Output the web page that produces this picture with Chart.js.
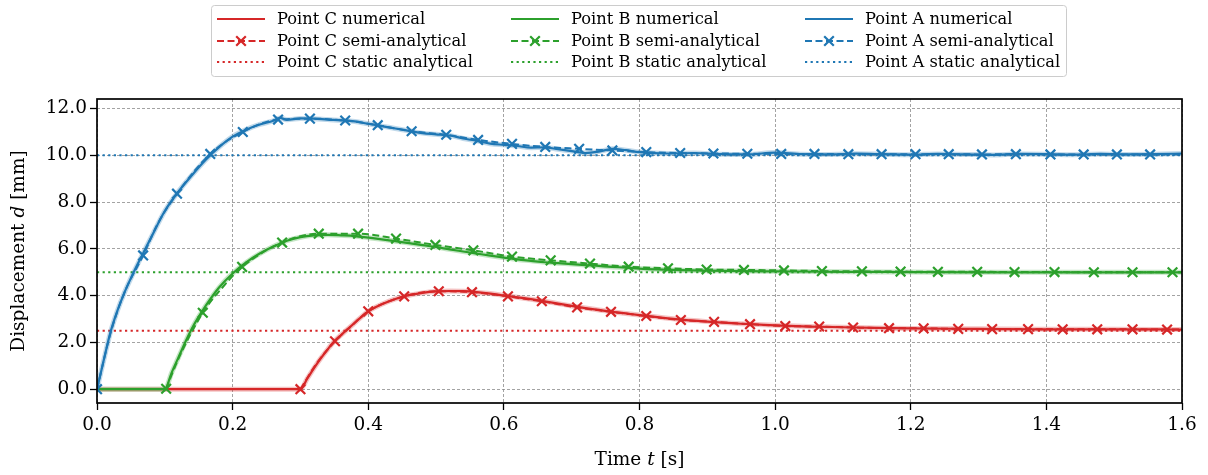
<!DOCTYPE html>
<html>
<head>
<meta charset="utf-8">
<script src="https://cdn.jsdelivr.net/npm/chart.js@4/dist/chart.umd.min.js"></script>
<style>
html,body{margin:0;padding:0;background:#ffffff;}
#wrap{width:1208px;height:475px;position:relative;}
</style>
</head>
<body>
<div id="wrap"><canvas id="c" width="1208" height="475"></canvas></div>
<script>
// ---------------- DATA ----------------
const xTicks = [0.0, 0.2, 0.4, 0.6, 0.8, 1.0, 1.2, 1.4, 1.6];
const yTicks = [0, 2, 4, 6, 8, 10, 12];

// static analytical displacement [mm]
const staticC = 2.5;
const staticB = 5.0;
const staticA = 10.0;

// numerical results
const numATime = [0, 0.01, 0.02, 0.03, 0.04, 0.05, 0.06, 0.08, 0.10, 0.12, 0.14, 0.16, 0.18, 0.20, 0.22, 0.24, 0.26, 0.27, 0.28, 0.30, 0.32, 0.34, 0.36, 0.38, 0.40, 0.42, 0.44, 0.46, 0.48, 0.50, 0.52, 0.54, 0.56, 0.58, 0.60, 0.62, 0.64, 0.66, 0.68, 0.70, 0.72, 0.74, 0.76, 0.78, 0.80, 0.84, 0.88, 0.92, 0.96, 1.00, 1.04, 1.08, 1.12, 1.16, 1.20, 1.24, 1.28, 1.32, 1.36, 1.40, 1.44, 1.48, 1.52, 1.56, 1.60];
const numADisp = [0, 1.25, 2.45, 3.35, 4.10, 4.75, 5.35, 6.50, 7.62, 8.45, 9.15, 9.80, 10.35, 10.80, 11.10, 11.32, 11.48, 11.60, 11.52, 11.58, 11.57, 11.53, 11.50, 11.45, 11.35, 11.25, 11.15, 11.05, 10.95, 10.90, 10.85, 10.72, 10.62, 10.50, 10.45, 10.40, 10.33, 10.34, 10.26, 10.18, 10.10, 10.16, 10.28, 10.22, 10.14, 10.08, 10.10, 10.05, 10.04, 10.12, 10.05, 10.04, 10.07, 10.05, 10.03, 10.06, 10.04, 10.02, 10.06, 10.05, 10.03, 10.06, 10.04, 10.05, 10.08];

const numBTime = [0, 0.10, 0.11, 0.12, 0.13, 0.14, 0.16, 0.18, 0.20, 0.22, 0.24, 0.26, 0.28, 0.30, 0.32, 0.34, 0.36, 0.38, 0.40, 0.42, 0.44, 0.46, 0.48, 0.50, 0.52, 0.54, 0.56, 0.58, 0.60, 0.62, 0.64, 0.66, 0.68, 0.70, 0.72, 0.74, 0.76, 0.78, 0.80, 0.85, 0.90, 0.95, 1.00, 1.10, 1.20, 1.30, 1.40, 1.50, 1.60];
const numBDisp = [0, 0, 0.70, 1.35, 2.00, 2.60, 3.55, 4.35, 4.95, 5.42, 5.80, 6.10, 6.35, 6.50, 6.58, 6.60, 6.58, 6.55, 6.48, 6.41, 6.33, 6.25, 6.16, 6.08, 5.98, 5.89, 5.80, 5.71, 5.63, 5.55, 5.49, 5.43, 5.39, 5.35, 5.31, 5.27, 5.23, 5.20, 5.16, 5.10, 5.07, 5.05, 5.04, 5.02, 5.01, 5.00, 5.00, 5.00, 5.00];

const numCTime = [0, 0.30, 0.31, 0.32, 0.33, 0.34, 0.35, 0.36, 0.37, 0.38, 0.39, 0.40, 0.42, 0.44, 0.46, 0.48, 0.50, 0.52, 0.54, 0.56, 0.58, 0.60, 0.62, 0.64, 0.66, 0.68, 0.70, 0.72, 0.74, 0.76, 0.78, 0.80, 0.85, 0.90, 0.95, 1.00, 1.05, 1.10, 1.15, 1.20, 1.30, 1.40, 1.50, 1.60];
const numCDisp = [0, 0, 0.45, 0.90, 1.32, 1.70, 2.05, 2.32, 2.58, 2.84, 3.09, 3.33, 3.63, 3.86, 4.02, 4.12, 4.18, 4.20, 4.19, 4.15, 4.09, 4.01, 3.93, 3.85, 3.76, 3.66, 3.56, 3.47, 3.39, 3.31, 3.24, 3.17, 3.01, 2.89, 2.80, 2.73, 2.68, 2.65, 2.62, 2.60, 2.58, 2.56, 2.56, 2.55];

// semi-analytical results; semiXMark = 1 where a marker is drawn
const semiATime = [0, 0.02, 0.04, 0.068, 0.09, 0.118, 0.167, 0.215, 0.267, 0.314, 0.366, 0.414, 0.464, 0.515, 0.562, 0.612, 0.661, 0.711, 0.760, 0.810, 0.860, 0.909, 0.959, 1.009, 1.058, 1.108, 1.157, 1.207, 1.256, 1.305, 1.355, 1.406, 1.455, 1.504, 1.553, 1.600];
const semiADisp = [0, 2.40, 4.10, 5.72, 7.10, 8.36, 10.06, 11.00, 11.53, 11.57, 11.49, 11.29, 11.03, 10.88, 10.66, 10.49, 10.36, 10.28, 10.21, 10.14, 10.10, 10.08, 10.07, 10.06, 10.06, 10.05, 10.05, 10.05, 10.05, 10.04, 10.05, 10.04, 10.04, 10.04, 10.04, 10.04];
const semiAMark = [1, 0, 0, 1, 0, 1, 1, 1, 1, 1, 1, 1, 1, 1, 1, 1, 1, 1, 1, 1, 1, 1, 1, 1, 1, 1, 1, 1, 1, 1, 1, 1, 1, 1, 1, 0];

const semiBTime = [0.102, 0.12, 0.156, 0.185, 0.214, 0.273, 0.327, 0.385, 0.441, 0.499, 0.555, 0.612, 0.669, 0.727, 0.784, 0.842, 0.899, 0.954, 1.013, 1.069, 1.128, 1.185, 1.240, 1.298, 1.353, 1.412, 1.470, 1.527, 1.586, 1.600];
const semiBDisp = [0.02, 1.30, 3.27, 4.35, 5.23, 6.27, 6.65, 6.65, 6.44, 6.17, 5.94, 5.67, 5.51, 5.37, 5.24, 5.17, 5.12, 5.10, 5.08, 5.05, 5.04, 5.03, 5.02, 5.02, 5.01, 5.01, 5.00, 5.00, 5.00, 5.00];
const semiBMark = [1, 0, 1, 0, 1, 1, 1, 1, 1, 1, 1, 1, 1, 1, 1, 1, 1, 1, 1, 1, 1, 1, 1, 1, 1, 1, 1, 1, 1, 0];

const semiCTime = [0.300, 0.325, 0.351, 0.375, 0.400, 0.453, 0.504, 0.553, 0.606, 0.656, 0.708, 0.758, 0.810, 0.861, 0.910, 0.963, 1.015, 1.065, 1.115, 1.168, 1.219, 1.270, 1.320, 1.373, 1.424, 1.475, 1.527, 1.578, 1.600];
const semiCDisp = [0.00, 1.15, 2.05, 2.70, 3.33, 3.97, 4.19, 4.15, 3.97, 3.76, 3.50, 3.31, 3.13, 2.96, 2.88, 2.78, 2.70, 2.68, 2.64, 2.61, 2.60, 2.58, 2.57, 2.57, 2.56, 2.56, 2.56, 2.55, 2.55];
const semiCMark = [1, 0, 1, 0, 1, 1, 1, 1, 1, 1, 1, 1, 1, 1, 1, 1, 1, 1, 1, 1, 1, 1, 1, 1, 1, 1, 1, 1, 0];

const labelsC = ['Point C numerical', 'Point C semi-analytical', 'Point C static analytical'];
const labelsB = ['Point B numerical', 'Point B semi-analytical', 'Point B static analytical'];
const labelsA = ['Point A numerical', 'Point A semi-analytical', 'Point A static analytical'];

// ---------------- STYLE ----------------
const FONT = '"DejaVu Serif", serif';
const RED = '#d62728', GREEN = '#2ca02c', BLUE = '#1f77b4';
const X_MIN = 0, X_MAX = 1.6, Y_MIN = -0.59, Y_MAX = 12.41;
const TICK_SIZE = 18.5, TITLE_SIZE = 18.5, LEGEND_SIZE = 16.3;

function pts(t, d) { return t.map((v, i) => ({ x: v, y: d[i] })); }
function hex2rgba(h, a) {
  const n = parseInt(h.slice(1), 16);
  return `rgba(${(n >> 16) & 255},${(n >> 8) & 255},${n & 255},${a})`;
}

function group(color, numT, numD, semiT, semiD, semiM, stat, labels, col) {
  const semiRadius = semiM.map(m => (m ? 6.8 : 0));
  return [
    { // static analytical
      label: labels[2], data: [{ x: X_MIN, y: stat }, { x: X_MAX, y: stat }],
      borderColor: color, borderWidth: 2, borderDash: [2.2, 3.4], pointRadius: 0,
      legendCol: col, legendRow: 2
    },
    { // semi-analytical
      label: labels[1], data: pts(semiT, semiD),
      borderColor: color, borderWidth: 2, borderDash: [7, 3.5],
      pointStyle: 'crossRot', pointRadius: semiRadius, pointBorderWidth: 2.2,
      pointBorderColor: color, pointBackgroundColor: color,
      cubicInterpolationMode: 'monotone',
      legendCol: col, legendRow: 1, legendMarker: true
    },
    { // numerical
      label: labels[0], data: pts(numT, numD),
      borderColor: color, borderWidth: 2.2, pointRadius: 0,
      cubicInterpolationMode: 'monotone',
      legendCol: col, legendRow: 0
    },
    { // numerical (translucent band)
      label: '', data: pts(numT, numD),
      borderColor: hex2rgba(color, 0.28), borderWidth: 5, pointRadius: 0,
      cubicInterpolationMode: 'monotone'
    }
  ];
}

const datasets = [].concat(
  group(BLUE, numATime, numADisp, semiATime, semiADisp, semiAMark, staticA, labelsA, 2),
  group(GREEN, numBTime, numBDisp, semiBTime, semiBDisp, semiBMark, staticB, labelsB, 1),
  group(RED, numCTime, numCDisp, semiCTime, semiCDisp, semiCMark, staticC, labelsC, 0)
);
datasets.forEach(d => { d.fill = false; d.backgroundColor = d.borderColor; });

// ---------------- PLUGINS ----------------
const framePlugin = {
  id: 'frame',
  afterDatasetsDraw(chart) {
    const { ctx, chartArea: a } = chart;
    ctx.save();
    ctx.strokeStyle = '#000';
    ctx.lineWidth = 1.7;
    ctx.strokeRect(a.left, a.top, a.right - a.left, a.bottom - a.top);
    ctx.restore();
  }
};

function drawMixed(ctx, parts, cx, cy) {
  let total = 0;
  parts.forEach(p => { ctx.font = p.font; p.w = ctx.measureText(p.t).width; total += p.w; });
  let x = cx - total / 2;
  parts.forEach(p => { ctx.font = p.font; ctx.fillText(p.t, x, cy); x += p.w; });
}

const titlePlugin = {
  id: 'axisTitles',
  afterDraw(chart) {
    const { ctx, chartArea: a } = chart;
    ctx.save();
    ctx.fillStyle = '#000';
    ctx.textAlign = 'left';
    ctx.textBaseline = 'middle';
    const reg = TITLE_SIZE + 'px ' + FONT, it = 'italic ' + TITLE_SIZE + 'px ' + FONT;
    drawMixed(ctx, [{ t: 'Time ', font: reg }, { t: 't', font: it }, { t: ' [s]', font: reg }],
      (a.left + a.right) / 2, 460);
    ctx.translate(19, (a.top + a.bottom) / 2);
    ctx.rotate(-Math.PI / 2);
    drawMixed(ctx, [{ t: 'Displacement ', font: reg }, { t: 'd', font: it }, { t: ' [mm]', font: reg }], 0, 0);
    ctx.restore();
  }
};

const legendPlugin = {
  id: 'gridLegend',
  afterDraw(chart) {
    const ctx = chart.ctx;
    const bx = 211.5, by = 5.5, bw = 855, bh = 71;
    const colX = [217, 511, 805], rowY = [19, 41, 62];
    ctx.save();
    ctx.beginPath();
    ctx.roundRect(bx, by, bw, bh, 3);
    ctx.fillStyle = 'rgba(255,255,255,0.85)';
    ctx.fill();
    ctx.strokeStyle = '#cccccc';
    ctx.lineWidth = 1;
    ctx.stroke();
    chart.data.datasets.forEach(ds => {
      if (ds.legendRow === undefined) return;
      const x0 = colX[ds.legendCol], y = rowY[ds.legendRow];
      ctx.save();
      ctx.strokeStyle = ds.borderColor;
      ctx.lineWidth = ds.borderWidth;
      ctx.setLineDash(ds.borderDash || []);
      ctx.beginPath();
      ctx.moveTo(x0, y);
      ctx.lineTo(x0 + 48, y);
      ctx.stroke();
      if (ds.legendMarker) {
        ctx.setLineDash([]);
        ctx.lineWidth = 2.2;
        const cx = x0 + 24, r = 4.8;
        ctx.beginPath();
        ctx.moveTo(cx - r, y - r); ctx.lineTo(cx + r, y + r);
        ctx.moveTo(cx - r, y + r); ctx.lineTo(cx + r, y - r);
        ctx.stroke();
      }
      ctx.restore();
      ctx.fillStyle = '#000';
      ctx.font = LEGEND_SIZE + 'px ' + FONT;
      ctx.textAlign = 'left';
      ctx.textBaseline = 'middle';
      ctx.fillText(ds.label, x0 + 60, y + 1);
    });
    ctx.restore();
  }
};

// ---------------- CHART ----------------
const gridOpts = {
  color: '#8c8c8c', lineWidth: 0.8, drawTicks: true, tickLength: 7,
  tickColor: '#000', tickWidth: 1.3, tickBorderDash: []
};

new Chart(document.getElementById('c'), {
  type: 'line',
  data: { datasets },
  options: {
    responsive: false,
    animation: false,
    events: [],
    devicePixelRatio: 1,
    layout: { autoPadding: false, padding: { left: 0, right: 26, top: 99, bottom: 0 } },
    plugins: { legend: { display: false }, tooltip: { enabled: false }, title: { display: false } },
    scales: {
      x: {
        type: 'linear', min: X_MIN, max: X_MAX,
        afterBuildTicks: s => { s.ticks = xTicks.map(v => ({ value: v })); },
        afterFit: s => { s.height = 72; },
        ticks: {
          callback: v => Number(v).toFixed(1), color: '#000',
          font: { family: FONT, size: TICK_SIZE }, padding: 4, maxRotation: 0, autoSkip: false
        },
        grid: gridOpts,
        border: { display: false, dash: [3, 2] }
      },
      y: {
        type: 'linear', min: Y_MIN, max: Y_MAX,
        afterBuildTicks: s => { s.ticks = yTicks.map(v => ({ value: v })); },
        afterFit: s => { s.width = 97; },
        ticks: {
          callback: v => Number(v).toFixed(1), color: '#000',
          font: { family: FONT, size: TICK_SIZE }, padding: 3
        },
        grid: gridOpts,
        border: { display: false, dash: [3, 2] }
      }
    }
  },
  plugins: [framePlugin, titlePlugin, legendPlugin]
});
</script>
</body>
</html>
